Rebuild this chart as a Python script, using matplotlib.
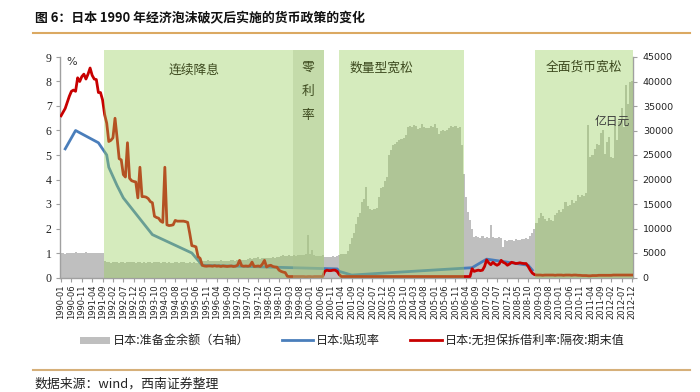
import numpy as np
import pandas as pd
import matplotlib
matplotlib.use("Agg")
import matplotlib.pyplot as plt
from matplotlib.patches import Rectangle
from matplotlib.lines import Line2D

plt.rcParams['font.family'] = ['Noto Sans CJK SC', 'DejaVu Sans']

# ---------------- data ----------------
months = pd.date_range('1990-01-01', periods=276, freq='MS').strftime('%Y-%m').tolist()

# reserve balance (100 million yen), monthly 1990-01 .. 2012-12
reserve = (
    [4900, 5000, 4800, 4900, 5000, 5100, 4900, 5200, 5000, 5100, 4900, 5100] +   # 1990
    [5200, 5000, 5100, 5000, 5100, 5000, 4900, 5000, 5000, 3400, 3200, 3100] +   # 1991
    [3000, 3100, 3200, 3100, 3000, 3100, 3100, 3000, 3100, 3200, 3100, 3100] +   # 1992
    [3000, 3100, 3100, 3000, 3100, 3000, 3100, 3100, 3000, 3100, 3200, 3100] +   # 1993
    [3000, 3100, 3100, 3000, 3100, 3000, 3000, 3100, 3100, 3000, 3100, 3200] +   # 1994
    [3000, 3000, 3100, 3000, 3100, 3000, 3000, 3100, 3300, 3400, 3400, 3500] +   # 1995
    [3300, 3400, 3400, 3300, 3400, 3500, 3400, 3300, 3400, 3400, 3500, 3600] +   # 1996
    [3400, 3500, 3400, 3500, 3600, 3500, 3800, 3900, 3800, 3900, 4000, 4200] +   # 1997
    [3800, 3900, 4000, 3900, 3900, 4000, 4100, 4000, 4100, 4200, 4300, 4500] +   # 1998
    [4300, 4400, 4500, 4400, 4500, 4400, 4500, 4600, 4500, 4600, 4700, 8700] +   # 1999
    [4800, 5600, 4500, 4300, 4400, 4300, 4500, 4200, 4100, 4200, 4100, 4300] +   # 2000
    [4200, 4300, 4600, 4700, 4800, 4800, 5500, 6800, 8000, 9000, 11000, 12400] + # 2001
    [13100, 15500, 16000, 18500, 14500, 13900, 13800, 14000, 14100, 16500, 18200, 18500] +  # 2002
    [19600, 20500, 25000, 26000, 27000, 27200, 27700, 28000, 28200, 28400, 29000, 30800] +  # 2003
    [31000, 30800, 31200, 30900, 30400, 30600, 31300, 30700, 30500, 30600, 31000, 30800] +  # 2004
    [31400, 30500, 29200, 30000, 30100, 29800, 30200, 30600, 30900, 30700, 31000, 30600] +  # 2005
    [30800, 27000, 21200, 16500, 13400, 11700, 10000, 8300, 8500, 8200, 8000, 8500] +       # 2006
    [8000, 8300, 8100, 10700, 8300, 8100, 8000, 8200, 8000, 6300, 7600, 7500] +             # 2007
    [7700, 7600, 7500, 7800, 7600, 7700, 7900, 7800, 8000, 7900, 8500, 9000] +              # 2008
    [10000, 11200, 12100, 13100, 12600, 12000, 11600, 12200, 11700, 11500, 12700, 13100] +  # 2009
    [13800, 13300, 14000, 15400, 14600, 14800, 15800, 15200, 15600, 16800, 16500, 16900] +  # 2010
    [16600, 17200, 31100, 24600, 25000, 26300, 27300, 27000, 29400, 30100, 25300, 27700] +  # 2011
    [28600, 24600, 24300, 31100, 28100, 32000, 34500, 30700, 39200, 35500, 39900, 40200]    # 2012
)

# uncollateralized overnight call rate, month-end (%)
call_rate = (
    [6.6, 6.75, 6.9, 7.15, 7.4, 7.6, 7.65, 7.6, 8.15, 8.0, 8.2, 8.3] +            # 1990
    [8.1, 8.3, 8.55, 8.25, 8.1, 8.08, 7.55, 7.55, 7.25, 6.65, 6.3, 5.55] +        # 1991
    [5.6, 5.7, 6.5, 5.7, 4.85, 4.8, 4.2, 4.1, 5.5, 4.05, 3.95, 3.92] +            # 1992
    [3.9, 3.25, 4.5, 3.3, 3.3, 3.28, 3.22, 3.1, 3.05, 2.5, 2.45, 2.42] +          # 1993
    [2.3, 2.25, 4.5, 2.15, 2.12, 2.13, 2.15, 2.33, 2.3, 2.3, 2.3, 2.3] +          # 1994
    [2.28, 2.25, 1.8, 1.3, 1.28, 1.25, 0.85, 0.78, 0.5, 0.47, 0.46, 0.47] +       # 1995
    [0.47, 0.46, 0.48, 0.46, 0.47, 0.45, 0.47, 0.46, 0.45, 0.46, 0.47, 0.45] +    # 1996
    [0.46, 0.5, 0.7, 0.48, 0.46, 0.47, 0.46, 0.48, 0.63, 0.45, 0.46, 0.47] +      # 1997
    [0.45, 0.55, 0.7, 0.43, 0.48, 0.5, 0.45, 0.43, 0.42, 0.3, 0.25, 0.22] +       # 1998
    [0.2, 0.05, 0.04, 0.04, 0.04, 0.04, 0.04, 0.04, 0.04, 0.04, 0.03, 0.04] +     # 1999
    [0.04, 0.03, 0.04, 0.04, 0.04, 0.04, 0.04, 0.25, 0.3, 0.28, 0.28, 0.3] +      # 2000
    [0.3, 0.25, 0.12, 0.04, 0.04, 0.04, 0.04, 0.04, 0.04, 0.04, 0.04, 0.04] +     # 2001
    [0.04] * 12 +                                                                 # 2002
    [0.04] * 12 +                                                                 # 2003
    [0.04] * 12 +                                                                 # 2004
    [0.04] * 12 +                                                                 # 2005
    [0.04, 0.04, 0.04, 0.04, 0.04, 0.04, 0.36, 0.25, 0.28, 0.3, 0.28, 0.3] +      # 2006
    [0.45, 0.72, 0.6, 0.52, 0.62, 0.55, 0.5, 0.55, 0.7, 0.62, 0.58, 0.5] +        # 2007
    [0.55, 0.62, 0.6, 0.57, 0.58, 0.6, 0.58, 0.57, 0.57, 0.45, 0.3, 0.18] +       # 2008
    [0.12, 0.1, 0.1, 0.1, 0.09, 0.1, 0.1, 0.1, 0.1, 0.1, 0.09, 0.1] +             # 2009
    [0.1, 0.1, 0.09, 0.1, 0.1, 0.1, 0.09, 0.1, 0.1, 0.09, 0.09, 0.08] +           # 2010
    [0.08, 0.08, 0.07, 0.07, 0.08, 0.08, 0.08, 0.09, 0.09, 0.09, 0.09, 0.09] +    # 2011
    [0.09, 0.09, 0.1, 0.1, 0.1, 0.1, 0.1, 0.1, 0.1, 0.1, 0.1, 0.1]                # 2012
)

# official discount rate, at change dates (month index, %)
discount_idx = [2, 7, 18, 22, 23, 27, 30, 37, 44, 63, 68, 133, 134, 140, 198, 205, 225, 227]
discount_val = [5.25, 6.0, 5.5, 5.0, 4.5, 3.75, 3.25, 2.5, 1.75, 1.0, 0.5, 0.35, 0.25, 0.1, 0.4, 0.75, 0.5, 0.3]

# policy periods (month index range) and labels
periods = [(20.8, 126.8), (111.5, 126.8), (133.8, 194.1), (228.4, 275.5)]
period_labels = ['连续降息', '零\n\n利\n\n率', '数量型宽松', '全面货币宽松']

legend_labels = ['日本:准备金余额（右轴）', '日本:贴现率', '日本:无担保拆借利率:隔夜:期末值']

# ---------------- figure ----------------
W, H = 700, 392
fig = plt.figure(figsize=(W / 100, H / 100), dpi=100)

def fx(px):
    return px / W

def fy(py):
    return 1 - py / H

left, right, top, bottom = 60, 633, 57, 277.5
ax = fig.add_axes([fx(left), fy(bottom), fx(right - left), (bottom - top) / H])

x = np.arange(len(months))
gray = '#bfbfbf'
axis_col = '#a0a0a0'

ax.bar(x, reserve, width=1.0, color=gray, linewidth=0, zorder=1)
ax.set_xlim(-0.5, len(months) - 0.5)
ax.set_ylim(0, 45000)

ax2 = ax.twinx()
ax2.set_ylim(0, 9)
ax2.plot(x, call_rate, color='#c80000', lw=2.0, zorder=3, solid_joinstyle='round')
ax2.plot(discount_idx, discount_val, color='#4a7ebb', lw=2.0, zorder=2, solid_joinstyle='round')

band_main = '#98cf5a'
band_zero = '#acc48e'
for i, (a, b) in enumerate(periods):
    col = band_zero if i == 1 else band_main
    ax2.axvspan(a, b, ymin=0, ymax=1.032, color=col, alpha=0.4, lw=0, zorder=5, clip_on=False)

# axes styling
ax.yaxis.tick_right()
ax2.yaxis.tick_left()
ax2.yaxis.set_label_position('left')

ax.set_yticks(np.arange(0, 45001, 5000))
ax.set_yticklabels([str(v) for v in range(0, 45001, 5000)], fontsize=6.8,
                   family='DejaVu Sans', color='#222222')
ax2.set_yticks(range(0, 10))
ax2.set_yticklabels([str(v) for v in range(10)], fontsize=8.5,
                    family='Liberation Serif', color='#222222')

ax.set_xticks(x[::5])
ax.set_xticklabels(months[::5], rotation=90, fontsize=6, family='DejaVu Sans', color='#222222')

for a_ in (ax, ax2):
    for s in a_.spines.values():
        s.set_visible(False)
for s in ('bottom', 'right', 'left'):
    ax.spines[s].set_visible(True)
    ax.spines[s].set_color(axis_col)
    ax.spines[s].set_linewidth(1.0)

ax.tick_params(axis='x', length=3, color=axis_col, pad=2)
ax.tick_params(axis='y', length=3, color=axis_col, pad=4)
ax2.tick_params(axis='y', length=3, color=axis_col, pad=3)

# band labels
txt_col = '#3d4a1f'
fig.text(fx(194), fy(70), period_labels[0], ha='center', va='center', fontsize=9.2, color=txt_col)
fig.text(fx(308), fy(91), period_labels[1], ha='center', va='center', fontsize=9.2,
         color=txt_col, linespacing=0.9)
fig.text(fx(381), fy(68), period_labels[2], ha='center', va='center', fontsize=9.2, color=txt_col)
fig.text(fx(584), fy(67), period_labels[3], ha='center', va='center', fontsize=9.2, color=txt_col)
fig.text(fx(612), fy(121), '亿日元', ha='center', va='center', fontsize=8.5, color='#3a3a3a')
fig.text(fx(72), fy(62), '%', ha='center', va='center', fontsize=8, color='#333333',
         family='DejaVu Sans')

# title and decorations
fig.text(fx(35), fy(18), '图 6：日本 1990 年经济泡沫破灭后实施的货币政策的变化', ha='left', va='center',
         fontsize=9.3, fontweight='bold', color='#111111')
fig.add_artist(Line2D([fx(33), fx(690)], [fy(33), fy(33)], color='#dba962', lw=1.5))
fig.add_artist(Line2D([fx(33), fx(690)], [fy(370), fy(370)], color='#d6b07a', lw=1.5))
fig.text(fx(34), fy(384), '数据来源：wind，西南证券整理', ha='left', va='center',
         fontsize=9.3, color='#222222', style='italic')

# legend (manual)
ly = 340
fig.add_artist(Rectangle((fx(80), fy(ly + 3.5)), fx(30), 7 / H, color=gray, lw=0))
fig.text(fx(113), fy(ly), legend_labels[0], ha='left', va='center', fontsize=8.7, color='#222222')
fig.add_artist(Line2D([fx(282), fx(313)], [fy(ly), fy(ly)], color='#4a7ebb', lw=2))
fig.text(fx(316), fy(ly), legend_labels[1], ha='left', va='center', fontsize=8.7, color='#222222')
fig.add_artist(Line2D([fx(410), fx(442)], [fy(ly), fy(ly)], color='#c80000', lw=2))
fig.text(fx(445), fy(ly), legend_labels[2], ha='left', va='center', fontsize=8.7, color='#222222')

fig.savefig('out.png', dpi=100)
